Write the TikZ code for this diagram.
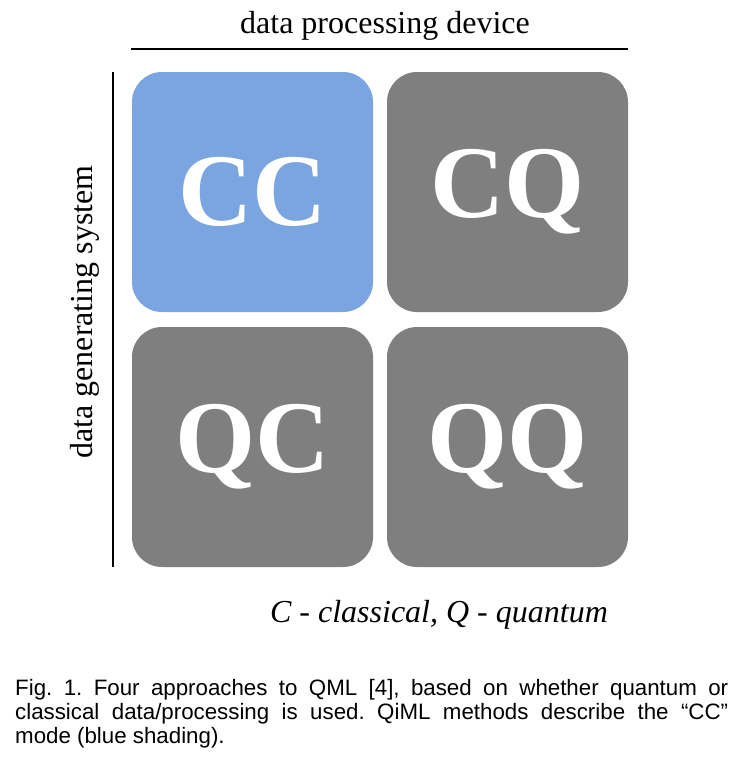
\documentclass[tikz,border=0pt]{standalone}
\usepackage{fontspec}
\setmainfont[Ligatures=TeX]{Liberation Serif}
\newfontfamily\capfont[Ligatures=TeX]{Liberation Sans}
\definecolor{qblue}{HTML}{7BA5E0}
\definecolor{qgray}{HTML}{7F7F7F}
\begin{document}
\begin{tikzpicture}[x=1pt,y=-1pt,
  quad/.style={rounded corners=30pt, minimum width=241pt, minimum height=240pt, inner sep=0pt, text=white, font=\fontsize{103}{103}\selectfont\bfseries},
  axlabel/.style={font=\fontsize{32}{33}\selectfont, inner sep=0pt}]
\useasboundingbox (0,0) rectangle (738,761);
\node[quad, fill=qblue] (cc) at (252.5,192) {\raisebox{-3pt}{CC}};
\node[quad, fill=qgray] (cq) at (507.5,192) {\raisebox{-3pt}{CQ}};
\node[quad, fill=qgray] (qc) at (252.5,447) {\raisebox{-3pt}{QC}};
\node[quad, fill=qgray] (qq) at (507.5,447) {\raisebox{-3pt}{QQ}};
\coordinate (tl) at (131,49);
\coordinate (tr) at (628,49);
\draw[line width=2pt] (tl) -- (tr);
\coordinate (vt) at (113,72);
\coordinate (vb) at (113,567);
\draw[line width=2pt] (vt) -- (vb);
\node[axlabel, anchor=base] (top) at (385,33) {data processing device};
\node[axlabel, anchor=base, rotate=90] (left) at (92,312) {data generating system};
\node[axlabel, anchor=base] (key) at (439,622) {\itshape C - classical, Q - quantum};
\node[anchor=north west, inner sep=0pt, text width=713pt, align=justify, font=\capfont\fontsize{22.3}{24}\selectfont] (cap) at (15,679) {\frenchspacing\hyphenpenalty=10000 \spaceskip=0.278em plus 0.6em minus 0em\relax Fig. 1. Four approaches to QML [4], based on whether quantum or classical data/processing is used. QiML methods describe the “CC” mode (blue shading).};
\end{tikzpicture}
\end{document}
